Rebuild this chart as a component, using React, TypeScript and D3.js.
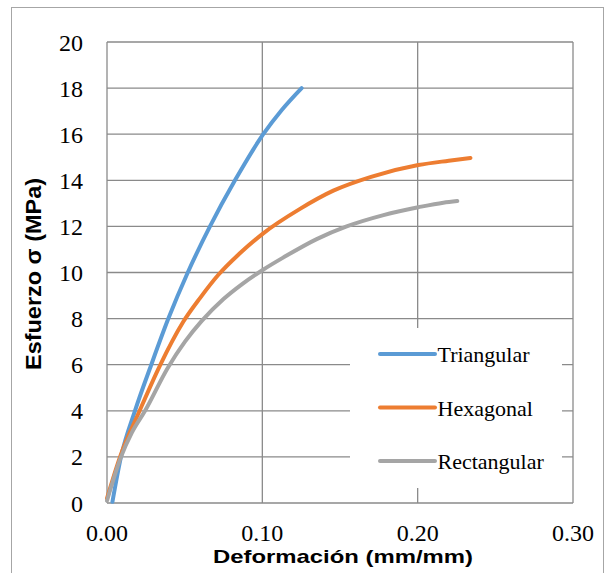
import React from "react";
import * as d3 from "d3";

const triStrain = [0.0035, 0.009, 0.018, 0.0285, 0.0395, 0.052, 0.0663, 0.0824, 0.1006, 0.1125, 0.1253];
const triStress = [0.05, 2, 4, 6, 8, 10, 12, 14, 16, 17.05, 18.0];

const hexStrain = [0, 0.0084, 0.021, 0.034, 0.049, 0.06, 0.0717, 0.085, 0.1006, 0.124, 0.1457, 0.17, 0.2004, 0.22, 0.234];
const hexStress = [0.2, 2, 4, 5.95, 7.85, 8.9, 9.9, 10.8, 11.7, 12.75, 13.55, 14.15, 14.66, 14.85, 14.97];

const recStrain = [0, 0.009, 0.016, 0.0245, 0.039, 0.0502, 0.061, 0.075, 0.087, 0.1, 0.1135, 0.135, 0.1543, 0.178, 0.2004, 0.2165, 0.2255];
const recStress = [0.1, 2, 3.05, 4, 5.85, 7.0, 7.9, 8.85, 9.5, 10.1, 10.65, 11.45, 12.0, 12.49, 12.83, 13.03, 13.1];

const seriesNames = ["Triangular", "Hexagonal", "Rectangular"];
const seriesColors = ["#5B9BD5", "#ED7D31", "#A5A5A5"];

const xTicks = [0, 0.1, 0.2, 0.3];
const yTicks = [0, 2, 4, 6, 8, 10, 12, 14, 16, 18, 20];

const xTitle = "Deformación  (mm/mm)";
const yTitle = "Esfuerzo σ (MPa)";

export default function App() {
  const W = 605, H = 573;
  const left = 107, right = 573, top = 42, bottom = 503;
  const x = d3.scaleLinear().domain([0, 0.3]).range([left, right]);
  const y = d3.scaleLinear().domain([0, 20]).range([bottom, top]);

  const series = [
    triStrain.map((s, i) => [s, triStress[i]] as [number, number]),
    hexStrain.map((s, i) => [s, hexStress[i]] as [number, number]),
    recStrain.map((s, i) => [s, recStress[i]] as [number, number]),
  ];
  const line = d3
    .line<[number, number]>()
    .x((d) => x(d[0]))
    .y((d) => y(d[1]))
    .curve(d3.curveMonotoneX);

  const grid = "#8a8a8a";
  const serif = "'Liberation Serif', 'Times New Roman', serif";
  const sans = "'Liberation Sans', Arial, sans-serif";

  const legX = 380, legY0 = 354, legStep = 53.5;

  return (
    <svg
      width={W}
      height={H}
      viewBox={`0 0 ${W} ${H}`}
      style={{ position: "absolute", left: 0, top: 0, background: "#fff" }}
    >
      <rect x={0} y={0} width={W} height={H} fill="#fff" />
      <rect x={11.5} y={7.5} width={592} height={590} fill="none" stroke="#a6a6a6" strokeWidth={1} />

      {/* grid */}
      {yTicks.map((t) => (
        <line key={"gy" + t} x1={left} x2={right} y1={y(t)} y2={y(t)} stroke={grid} strokeWidth={1.3} />
      ))}
      {xTicks.map((t) => (
        <line key={"gx" + t} x1={x(t)} x2={x(t)} y1={top} y2={bottom} stroke={grid} strokeWidth={1.3} />
      ))}

      {/* tick labels */}
      {yTicks.map((t) => (
        <text
          key={"ly" + t}
          x={83}
          y={y(t) + 8.5}
          textAnchor="end"
          fontFamily={serif}
          fontSize={24}
          fill="#000"
        >
          {t}
        </text>
      ))}
      {xTicks.map((t) => (
        <text
          key={"lx" + t}
          x={x(t)}
          y={541}
          textAnchor="middle"
          fontFamily={serif}
          fontSize={24}
          fill="#000"
        >
          {t.toFixed(2)}
        </text>
      ))}

      {/* series */}
      {series.map((d, i) => (
        <path
          key={"s" + i}
          d={line(d) || ""}
          fill="none"
          stroke={seriesColors[i]}
          strokeWidth={4}
          strokeLinecap="round"
          strokeLinejoin="round"
        />
      ))}

      {/* legend */}
      <rect x={350} y={328} width={212} height={160} fill="#fff" />
      {seriesNames.map((n, i) => (
        <g key={"lg" + i}>
          <line
            x1={legX}
            x2={435}
            y1={legY0 + i * legStep}
            y2={legY0 + i * legStep}
            stroke={seriesColors[i]}
            strokeWidth={4}
            strokeLinecap="round"
          />
          <text x={437.5} y={legY0 + i * legStep + 8} fontFamily={serif} fontSize={22} fill="#000">
            {n}
          </text>
        </g>
      ))}

      {/* axis titles */}
      <text
        x={343}
        y={563}
        textAnchor="middle"
        fontFamily={sans}
        fontWeight="bold"
        fontSize={19}
        textLength={260}
        lengthAdjust="spacingAndGlyphs"
        fill="#000"
      >
        {xTitle}
      </text>
      <text
        transform={`translate(41, 274) rotate(-90)`}
        textAnchor="middle"
        fontFamily={sans}
        fontWeight="bold"
        fontSize={22}
        textLength={192}
        lengthAdjust="spacingAndGlyphs"
        fill="#000"
      >
        {yTitle}
      </text>
    </svg>
  );
}
